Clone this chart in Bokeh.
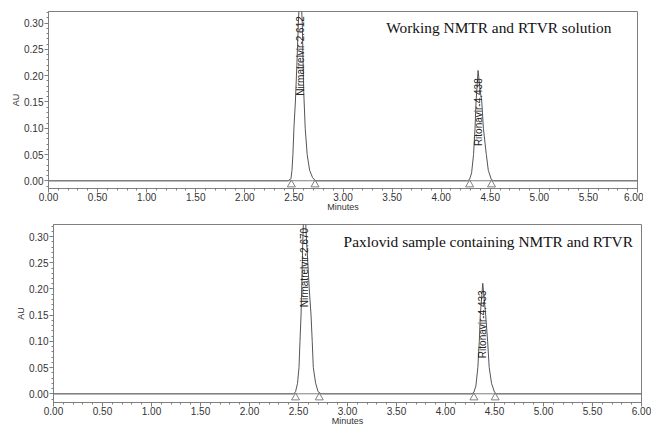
import math
from bokeh.plotting import figure
from bokeh.layouts import column, row
from bokeh.models import Range1d, SingleIntervalTicker, NumeralTickFormatter, Span, ColumnDataSource
from bokeh.embed import file_html
from bokeh.resources import INLINE
from bokeh.core.properties import value

# ---------------- data ----------------
x_ticks_step = 0.5
y_ticks_step = 0.05

# Panel A: Working NMTR and RTVR solution
a_time = [0.00, 2.44, 2.47, 2.48, 2.49, 2.50, 2.515, 2.53, 2.545, 2.565, 2.585, 2.60,
          2.615, 2.635, 2.66, 2.69, 2.72,
          4.27, 4.29, 4.31, 4.33, 4.345, 4.355, 4.376, 4.395, 4.414, 4.43, 4.46, 4.48, 4.51, 4.53, 6.00]
a_au = [0.000, 0.000, 0.004, 0.020, 0.050, 0.100, 0.150, 0.220, 0.300, 0.380, 0.300, 0.170,
        0.100, 0.050, 0.020, 0.006, 0.000,
        0.000, 0.003, 0.015, 0.050, 0.100, 0.150, 0.210, 0.175, 0.150, 0.100, 0.050, 0.020, 0.003, 0.000, 0.000]
a_marks = [2.474, 2.715, 4.290, 4.513]
a_peak_names = ["Nirmatrelvir-2.612", "Ritonavir-4.438"]
a_peak_x = [2.566, 4.376]
a_peak_label_y = [0.162, 0.066]
a_title = "Working NMTR and RTVR solution"

# Panel B: Paxlovid sample containing NMTR and RTVR
b_time = [0.00, 2.45, 2.47, 2.49, 2.505, 2.515, 2.526, 2.545, 2.56, 2.58, 2.61, 2.628,
          2.64, 2.651, 2.675, 2.70, 2.73,
          4.27, 4.29, 4.31, 4.33, 4.345, 4.355, 4.38, 4.41, 4.43, 4.446, 4.47, 4.50, 4.52, 6.00]
b_au = [0.000, 0.000, 0.004, 0.020, 0.050, 0.100, 0.150, 0.300, 0.380, 0.300, 0.200, 0.150,
        0.100, 0.050, 0.020, 0.004, 0.000,
        0.000, 0.003, 0.015, 0.050, 0.100, 0.150, 0.211, 0.150, 0.100, 0.050, 0.020, 0.003, 0.000, 0.000]
b_marks = [2.470, 2.712, 4.290, 4.507]
b_peak_names = ["Nirmatrelvir-2.670", "Ritonavir-4.433"]
b_peak_x = [2.562, 4.380]
b_peak_label_y = [0.165, 0.068]
b_title = "Paxlovid sample containing NMTR and RTVR"

# ---------------- style ----------------
GRAY = "#7f7f7f"
TXT = "#333333"
SANS = "Liberation Sans"
SERIF = "Liberation Serif"
MARK_Y = -0.0072


def panel(time, au, marks, names, px, py, title, title_x, y0, y1,
          w, h, bl, br, bt, bb):
    p = figure(width=w, height=h, output_backend="svg",
               toolbar_location=None, x_range=Range1d(0, 6), y_range=Range1d(y0, y1),
               min_border_left=bl, min_border_right=br, min_border_top=bt,
               min_border_bottom=bb)
    p.xgrid.visible = False
    p.ygrid.visible = False
    p.outline_line_color = GRAY
    p.background_fill_color = "white"
    p.border_fill_color = "white"

    p.xaxis.ticker = SingleIntervalTicker(interval=x_ticks_step, num_minor_ticks=5)
    p.yaxis.ticker = SingleIntervalTicker(interval=y_ticks_step, num_minor_ticks=5)
    for ax in (p.xaxis, p.yaxis):
        ax.formatter = NumeralTickFormatter(format="0.00")
        ax.axis_line_color = GRAY
        ax.major_tick_line_color = GRAY
        ax.minor_tick_line_color = GRAY
        ax.major_tick_in = 0
        ax.major_tick_out = 4
        ax.minor_tick_in = 0
        ax.minor_tick_out = 2
        ax.major_label_text_font = SANS
        ax.major_label_text_font_size = "10px"
        ax.major_label_text_color = TXT
        ax.axis_label_text_font = SANS
        ax.axis_label_text_font_size = "9px"
        ax.axis_label_text_font_style = "normal"
        ax.axis_label_text_color = TXT
        ax.major_label_standoff = 1
        ax.axis_label_standoff = 0
    p.xaxis.major_label_standoff = 0
    p.xaxis.axis_label_standoff = -2
    p.xaxis.axis_label = "Minutes"
    p.yaxis.axis_label = "AU"

    p.add_layout(Span(location=0, dimension="width", line_color=GRAY, line_width=1))
    p.line(time, au, line_color="#555555", line_width=1)
    p.scatter(marks, [MARK_Y] * len(marks), marker="triangle", size=8,
              fill_color="white", fill_alpha=0, line_color=GRAY, line_width=1)

    src = ColumnDataSource(dict(x=px, y=py, t=names))
    p.text(x="x", y="y", text="t", source=src, angle=math.pi / 2,
           text_align="left", text_baseline="middle",
           text_font=value(SANS), text_font_size="10px", text_color="#222222")

    p.text(x=[title_x], y=[0.291], text=[title], text_align="left", text_baseline="middle",
           text_font=value(SERIF), text_font_size="15.4px", text_color="#111111")
    return p


p1 = panel(a_time, a_au, a_marks, a_peak_names, a_peak_x, a_peak_label_y, a_title, 3.44,
           -0.0147, 0.3223, 643, 215, 48, 6, 11, 27)
p2 = panel(b_time, b_au, b_marks, b_peak_names, b_peak_x, b_peak_label_y, b_title, 2.96,
           -0.0166, 0.323, 651, 214, 53, 10, 9, 27)

layout = column(row(p1), row(p2), spacing=0)
open("out.html", "w").write(file_html(layout, INLINE))
